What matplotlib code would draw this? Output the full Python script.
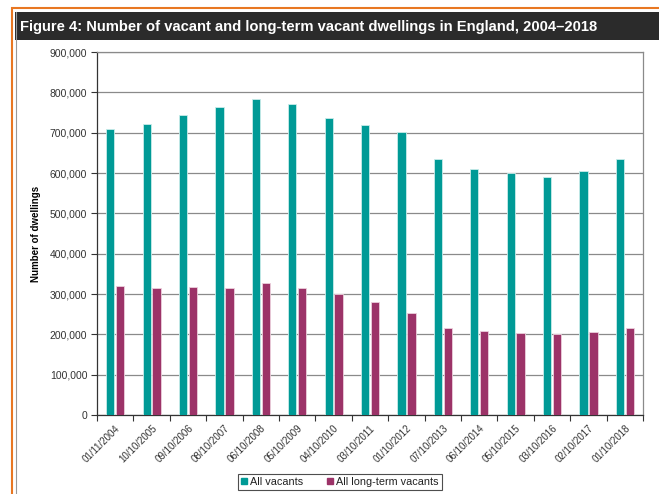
import matplotlib
matplotlib.use('Agg')
import matplotlib.pyplot as plt
import numpy as np
from matplotlib.patches import Rectangle
from matplotlib.lines import Line2D
from matplotlib.ticker import FuncFormatter, MultipleLocator
#------------------------------------------------------------------------------#
# Data.
dates = ['01/11/2004', '10/10/2005', '09/10/2006', '08/10/2007', '06/10/2008',
         '05/10/2009', '04/10/2010', '03/10/2011', '01/10/2012', '07/10/2013',
         '06/10/2014', '05/10/2015', '03/10/2016', '02/10/2017', '01/10/2018']
all_vacants = [710140, 721500, 744800, 762800, 783100, 770700, 737100, 719300,
               702200, 635100, 610100, 600200, 589800, 605900, 634500]
long_term = [318600, 315200, 316200, 315000, 326100, 316000, 300200, 279000,
             254100, 216100, 207900, 203600, 200100, 205300, 216200]

title = 'Figure 4: Number of vacant and long-term vacant dwellings in England, 2004\u20132018'
teal = '#009a96'
plum = '#9c3368'
#------------------------------------------------------------------------------#
plt.rcParams['font.family'] = ['Liberation Sans', 'DejaVu Sans']

W, H = 659, 494
fig = plt.figure(figsize=(W / 100, H / 100), dpi=100)
ax = fig.add_axes([97 / W, 1 - 415 / H, (643 - 97) / W, (415 - 52) / H])

x = np.arange(len(dates))
ax.bar(x - 0.135, all_vacants, width=0.23, color=teal, edgecolor='#c8ecea',
       linewidth=0.6, zorder=3)
ax.bar(x + 0.135, long_term, width=0.23, color=plum, edgecolor='#ecd0dc',
       linewidth=0.6, zorder=3)

ax.set_xlim(-0.5, len(dates) - 0.5)
ax.set_ylim(0, 900000)
ax.yaxis.set_major_locator(MultipleLocator(100000))
ax.yaxis.set_major_formatter(FuncFormatter(lambda v, p: f'{int(v):,}'))
ax.grid(axis='y', color='#8a8a8a', linewidth=0.9, zorder=0)

# category labels at centres, tick marks at the boundaries
ax.set_xticks(x)
ax.set_xticklabels(dates, rotation=45, ha='right', rotation_mode='anchor',
                   fontsize=7, color='#333333')
ax.tick_params(axis='x', length=0, pad=6)
ax.set_xticks(np.arange(len(dates) + 1) - 0.5, minor=True)
ax.tick_params(axis='x', which='minor', length=4, color='#333333', width=0.8)
ax.tick_params(axis='y', labelsize=7.5, labelcolor='#333333', length=4,
               color='#333333', width=0.8, pad=3)

for s in ['top', 'right']:
    ax.spines[s].set_color('#8a8a8a')
    ax.spines[s].set_linewidth(0.9)
for s in ['left', 'bottom']:
    ax.spines[s].set_color('#333333')
    ax.spines[s].set_linewidth(0.9)

ax.set_ylabel('Number of dwellings', fontsize=7, fontweight='bold',
              labelpad=6)

# legend
handles = [Line2D([], [], marker='s', color='none', markerfacecolor=teal,
                  markeredgecolor=teal, markersize=4.5),
           Line2D([], [], marker='s', color='none', markerfacecolor=plum,
                  markeredgecolor=plum, markersize=4.5)]
leg = fig.legend(handles, ['All vacants', 'All long-term vacants'], ncol=2,
                 loc='center', bbox_to_anchor=(340 / W, 1 - 482 / H),
                 fontsize=7.8, frameon=True, fancybox=False, handlelength=0.6,
                 handletextpad=0.25, columnspacing=2.2, borderpad=0.3,
                 borderaxespad=0)
leg.get_frame().set_edgecolor('#222222')
leg.get_frame().set_linewidth(0.8)
for t in leg.get_texts():
    t.set_color('#222222')

# orange frame and dark title band
fig.patches.append(Rectangle((12 / W, -0.1), 1.1, 1 - 8 / H + 0.1,
                             transform=fig.transFigure, fill=False,
                             edgecolor='#e87722', linewidth=1.5, zorder=0))
fig.lines.append(Line2D([15.5 / W, 15.5 / W], [0, 1 - 12 / H],
                        transform=fig.transFigure, color='#999999',
                        linewidth=0.8))
fig.patches.append(Rectangle((15 / W, 1 - 40 / H), 1, 28 / H,
                             transform=fig.transFigure, facecolor='#2b2b2b',
                             edgecolor='none', zorder=1))
fig.text(20 / W, 1 - 26.5 / H, title, color='white', fontsize=10.6,
         fontweight='bold', va='center', ha='left')

fig.savefig('out.png', dpi=100)
